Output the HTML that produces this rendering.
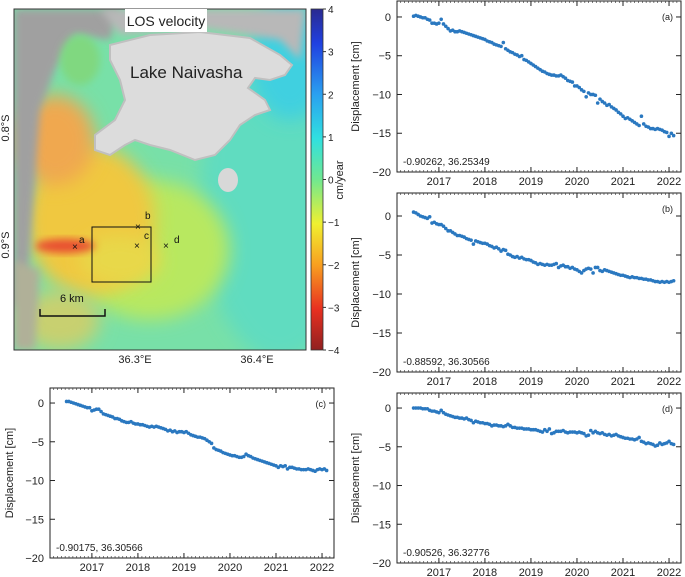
<!DOCTYPE html>
<html><head><meta charset="utf-8"><style>
body{margin:0;background:#fff;}
svg{display:block;font-family:"Liberation Sans","DejaVu Sans",sans-serif;}
</style></head><body>
<svg id="fig" width="685" height="577" viewBox="0 0 685 577">
<defs>
<filter id="bl" x="-30%" y="-30%" width="160%" height="160%"><feGaussianBlur stdDeviation="9"/></filter>
<filter id="bl2" x="-30%" y="-30%" width="160%" height="160%"><feGaussianBlur stdDeviation="4"/></filter>
<clipPath id="mapclip"><rect x="14" y="9" width="292" height="341"/></clipPath>
<linearGradient id="cbar" x1="0" y1="0" x2="0" y2="1">
<stop offset="0" stop-color="#2a2a90"/><stop offset="0.1" stop-color="#2040e0"/>
<stop offset="0.25" stop-color="#2aa0f0"/><stop offset="0.38" stop-color="#30e0e0"/>
<stop offset="0.5" stop-color="#70e890"/><stop offset="0.63" stop-color="#f0f030"/>
<stop offset="0.75" stop-color="#f8a020"/><stop offset="0.88" stop-color="#e83020"/>
<stop offset="1" stop-color="#902020"/></linearGradient>
</defs>
<g clip-path="url(#mapclip)">
<rect x="14" y="9" width="292" height="341" fill="#78e0a8"/>
<ellipse cx="280" cy="200" rx="80" ry="160" fill="#60dcc0" filter="url(#bl)"/>
<ellipse cx="290" cy="60" rx="40" ry="60" fill="#40d0e0" filter="url(#bl)"/>
<ellipse cx="150" cy="250" rx="80" ry="70" fill="#b8e860" filter="url(#bl)"/>
<ellipse cx="90" cy="220" rx="65" ry="75" fill="#f0c840" filter="url(#bl)"/>
<ellipse cx="55" cy="140" rx="40" ry="45" fill="#f0a850" filter="url(#bl)"/>
<ellipse cx="120" cy="260" rx="40" ry="25" fill="#e8d848" filter="url(#bl)"/>
<ellipse cx="65" cy="246" rx="30" ry="7" fill="#e85030" filter="url(#bl2)"/>
<ellipse cx="60" cy="320" rx="40" ry="30" fill="#c8d070" filter="url(#bl)"/>
<path d="M14 9 L120 9 L110 40 L75 35 L55 70 L40 110 L35 180 L30 250 L25 300 L14 310 Z" fill="#a0a0a0" filter="url(#bl2)"/>
<path d="M14 260 L40 270 L35 350 L14 350 Z" fill="#b0b098" filter="url(#bl2)"/>
<path d="M100 9 L306 9 L300 60 L280 40 L200 28 L120 35 Z" fill="#b8b8b8" filter="url(#bl2)"/>
<ellipse cx="80" cy="60" rx="20" ry="25" fill="#80d880" filter="url(#bl2)"/>
<path d="M110 45 L150 35 L200 32 L250 38 L280 55 L292 65 L285 75 L270 80 L255 78 L248 88 L258 95 L265 100 L270 110 L255 115 L240 125 L230 140 L215 155 L195 160 L170 150 L150 145 L135 140 L125 145 L110 155 L95 150 L95 135 L115 120 L125 100 L120 80 L110 60 Z" fill="#dcdcdc" stroke="#c0c0c0" stroke-width="2"/>
<ellipse cx="228" cy="180" rx="10" ry="12" fill="#d8d8d8"/>
</g>
<rect x="14" y="9" width="292" height="341" fill="none" stroke="#333" stroke-width="1"/>
<rect x="125" y="9" width="82" height="23" fill="#fff"/>
<text x="166" y="26" font-size="14" text-anchor="middle" fill="#222">LOS velocity</text>
<text x="130" y="78" font-size="17" fill="#222">Lake Naivasha</text>
<rect x="92" y="227" width="59" height="55" fill="none" stroke="#111" stroke-width="1"/>
<g font-size="10" fill="#111">
<text x="72" y="250">×</text><text x="79" y="243">a</text>
<text x="135" y="230">×</text><text x="145" y="219">b</text>
<text x="134" y="249">×</text><text x="144" y="239">c</text>
<text x="163" y="249">×</text><text x="174" y="243">d</text>
</g>
<path d="M40 309 V316 H105 V309" fill="none" stroke="#111" stroke-width="1.5"/>
<text x="60" y="302" font-size="11" fill="#111">6 km</text>
<text x="135" y="363" font-size="11" text-anchor="middle" fill="#222">36.3°E</text>
<text x="257" y="363" font-size="11" text-anchor="middle" fill="#222">36.4°E</text>
<text transform="translate(9,128) rotate(-90)" font-size="11" text-anchor="middle" fill="#222">0.8°S</text>
<text transform="translate(9,245) rotate(-90)" font-size="11" text-anchor="middle" fill="#222">0.9°S</text>
<rect x="311" y="9" width="12" height="341" fill="url(#cbar)" stroke="#333" stroke-width="0.8"/>
<g id="cbticks" font-size="10" fill="#222"></g>
<text transform="translate(343,180) rotate(-90)" font-size="11" text-anchor="middle" fill="#222">cm/year</text>
<g id="charts"></g>
</svg>
<script>
const cbLabels=["4","3","2","1","0","−1","−2","−3","−4"];
const years=[2016.45,2016.50,2016.55,2016.60,2016.65,2016.70,2016.75,2016.80,2016.85,2016.90,2016.95,
2017.00,2017.05,2017.10,2017.15,2017.20,2017.25,2017.30,2017.35,2017.40,2017.45,2017.50,2017.55,2017.60,2017.65,2017.70,2017.75,2017.80,2017.85,2017.90,2017.95,
2018.00,2018.05,2018.10,2018.15,2018.20,2018.25,2018.30,2018.35,2018.40,2018.45,2018.50,2018.55,2018.60,2018.65,2018.70,2018.75,2018.80,2018.85,2018.90,2018.95,
2019.00,2019.05,2019.10,2019.15,2019.20,2019.25,2019.30,2019.35,2019.40,2019.45,2019.50,2019.55,2019.60,2019.65,2019.70,2019.75,2019.80,2019.85,2019.90,2019.95,
2020.00,2020.05,2020.10,2020.15,2020.20,2020.25,2020.30,2020.35,2020.40,2020.45,2020.50,2020.55,2020.60,2020.65,2020.70,2020.75,2020.80,2020.85,2020.90,2020.95,
2021.00,2021.05,2021.10,2021.15,2021.20,2021.25,2021.30,2021.35,2021.40,2021.45,2021.50,2021.55,2021.60,2021.65,2021.70,2021.75,2021.80,2021.85,2021.90,2021.95,
2022.00,2022.05,2022.10];
const seriesA=[0.1,0.2,0.1,0.0,-0.1,-0.1,-0.3,-0.4,-0.8,-0.8,-0.9,
-0.8,-0.3,-0.9,-1.2,-1.5,-1.8,-1.7,-1.9,-1.9,-1.8,-1.9,-2.0,-2.1,-2.2,-2.3,-2.4,-2.5,-2.6,-2.7,-2.8,
-2.9,-3.1,-3.2,-3.3,-3.5,-3.6,-3.7,-3.8,-3.3,-4.1,-4.3,-4.5,-4.6,-4.8,-4.9,-5.1,-5.0,-5.5,-5.6,-5.8,
-6.0,-6.2,-6.4,-6.6,-6.8,-7.0,-7.1,-7.3,-7.4,-7.5,-7.5,-7.6,-7.6,-7.5,-7.7,-7.9,-8.2,-8.3,-8.4,-8.9,
-8.9,-9.1,-9.4,-9.6,-10.3,-9.8,-10.0,-10.0,-10.1,-11.1,-10.6,-10.9,-11.1,-11.4,-11.3,-11.6,-11.8,-12.0,-12.3,-12.5,
-12.8,-13.1,-13.0,-13.2,-13.4,-13.6,-13.8,-14.0,-12.8,-13.8,-14.1,-14.2,-14.4,-14.4,-14.5,-14.4,-14.5,-14.6,-14.8,-14.9,
-15.4,-15.0,-15.3];
const seriesB=[0.5,0.4,0.2,0.0,-0.1,-0.2,-0.3,-0.1,-0.9,-0.8,-1.0,
-1.1,-1.1,-1.3,-1.6,-1.9,-1.9,-2.1,-2.3,-2.5,-2.5,-2.6,-2.7,-2.9,-3.0,-3.1,-3.6,-3.2,-3.3,-3.4,-3.5,
-3.5,-3.6,-3.8,-3.9,-4.1,-4.0,-4.2,-4.5,-4.3,-4.4,-4.9,-5.0,-5.2,-5.3,-5.2,-5.4,-5.3,-5.5,-5.6,-5.6,
-5.7,-5.9,-6.0,-6.2,-6.1,-6.2,-6.3,-6.2,-6.3,-6.3,-6.2,-6.1,-6.6,-6.4,-6.3,-6.5,-6.5,-6.7,-6.6,-6.8,
-6.9,-7.1,-7.3,-7.0,-6.8,-6.7,-6.8,-7.3,-6.6,-6.6,-7.0,-7.1,-6.9,-7.0,-7.1,-7.2,-7.3,-7.4,-7.5,-7.6,
-7.6,-7.7,-7.8,-7.9,-7.8,-7.9,-7.9,-8.0,-8.0,-8.1,-8.1,-8.2,-8.2,-8.3,-8.4,-8.4,-8.5,-8.4,-8.5,-8.4,
-8.5,-8.4,-8.3];
const seriesC=[0.2,0.2,0.1,0.0,-0.1,-0.2,-0.3,-0.4,-0.5,-0.6,-0.6,
-1.0,-0.9,-0.8,-0.8,-1.1,-1.4,-1.5,-1.6,-1.7,-1.8,-2.0,-2.0,-2.1,-2.3,-2.4,-2.5,-2.5,-2.4,-2.6,-2.7,
-2.7,-2.8,-2.8,-2.9,-3.0,-3.1,-3.0,-3.1,-3.0,-3.1,-3.2,-3.3,-3.4,-3.6,-3.5,-3.7,-3.6,-3.8,-3.7,-3.7,
-3.8,-3.7,-3.9,-4.1,-4.2,-4.3,-4.4,-4.4,-4.5,-4.6,-4.8,-5.0,-5.2,-5.8,-6.0,-6.1,-6.2,-6.4,-6.5,-6.6,
-6.7,-6.8,-6.8,-6.9,-7.0,-7.0,-6.9,-6.6,-6.8,-6.9,-7.1,-7.2,-7.3,-7.4,-7.5,-7.6,-7.7,-7.8,-7.9,-8.0,
-8.1,-8.3,-8.1,-8.2,-8.1,-8.5,-8.3,-8.3,-8.4,-8.5,-8.5,-8.6,-8.6,-8.6,-8.5,-8.6,-8.7,-8.8,-8.6,-8.5,
-8.6,-8.5,-8.7];
const seriesD=[0.0,0.0,0.0,0.0,-0.1,-0.1,-0.1,-0.3,-0.4,-0.4,-0.5,
-0.6,-0.3,-0.6,-0.8,-0.9,-1.0,-1.1,-1.2,-1.2,-1.3,-1.3,-1.4,-1.3,-1.5,-1.6,-1.9,-1.7,-1.8,-1.9,-1.9,
-2.0,-2.0,-2.1,-2.3,-2.2,-2.2,-2.3,-2.3,-2.4,-2.3,-2.1,-2.3,-2.5,-2.5,-2.6,-2.6,-2.6,-2.7,-2.7,-2.7,
-2.8,-2.8,-2.8,-2.9,-3.0,-3.1,-2.8,-3.0,-2.7,-3.3,-3.2,-3.0,-3.0,-3.0,-2.9,-3.1,-3.2,-3.1,-3.1,-3.1,
-3.2,-3.1,-3.2,-3.3,-3.6,-3.5,-2.9,-3.2,-3.0,-3.2,-3.3,-3.2,-3.4,-3.5,-3.4,-3.6,-3.5,-3.4,-3.6,-3.7,
-3.8,-3.9,-3.9,-4.0,-4.0,-4.1,-4.0,-3.8,-4.3,-4.4,-4.6,-4.5,-4.6,-4.7,-4.9,-4.8,-4.5,-4.7,-4.6,-4.5,
-4.3,-4.6,-4.7];
const xTicks=[2017,2018,2019,2020,2021,2022];
const yTicks=[0,-5,-10,-15,-20];
const yTickLabels=["0","−5","−10","−15","−20"];
const panelLabels=["(a)","(b)","(c)","(d)"];
const coordLabels=["-0.90262, 36.25349","-0.88592, 36.30566","-0.90175, 36.30566","-0.90526, 36.32776"];

const NS="http://www.w3.org/2000/svg";
function mk(tag,attrs,parent){const e=document.createElementNS(NS,tag);for(const k in attrs)e.setAttribute(k,attrs[k]);parent.appendChild(e);return e;}
const cb=document.getElementById('cbticks');
cbLabels.forEach((l,i)=>{const y=9+i*341/8;
 const tk=mk('line',{x1:323,x2:326,y1:y,y2:y,stroke:'#333'},cb);
 
 
 const t=mk('text',{x:328,y:y+4},cb);t.textContent=l;
 
 
});
const panels=[
 {L:397,R:681,T:1,B:172,ymax:2.06,vals:seriesA,ylx:359},
 {L:397,R:681,T:193,B:372,ymax:2.95,vals:seriesB,ylx:359},
 {L:50,R:334,T:388,B:558,ymax:1.94,vals:seriesC,ylx:13},
 {L:397,R:681,T:393,B:563,ymax:1.94,vals:seriesD,ylx:359}];
const charts=document.getElementById('charts');
panels.forEach((p,pi)=>{
 const g=mk('g',{},charts);
 
 
 const x0=2016.09,x1=2022.26;
 const sx=v=>p.L+(v-x0)/(x1-x0)*(p.R-p.L);
 const sy=v=>p.T+(p.ymax-v)/(p.ymax+20)*(p.B-p.T);
 const fr=mk('rect',{x:p.L,y:p.T,width:p.R-p.L,height:p.B-p.T,fill:'none',stroke:'#222','stroke-width':1},g);
 
 
 for(let m=2016.17;m<x1;m+=1/12){const x=sx(m);
  mk('line',{x1:x,x2:x,y1:p.B,y2:p.B-2,stroke:'#444','stroke-width':0.7},g);
  mk('line',{x1:x,x2:x,y1:p.T,y2:p.T+2,stroke:'#444','stroke-width':0.7},g);}
 xTicks.forEach(v=>{const x=sx(v);
  mk('line',{x1:x,x2:x,y1:p.B,y2:p.B-5,stroke:'#222'},g);
  mk('line',{x1:x,x2:x,y1:p.T,y2:p.T+5,stroke:'#222'},g);
  const t=mk('text',{x:x,y:p.B+13,'font-size':11,'text-anchor':'middle',fill:'#222'},g);t.textContent=v;
  
  });
 yTicks.forEach((v,i)=>{const y=sy(v);
  mk('line',{x1:p.L,x2:p.L+5,y1:y,y2:y,stroke:'#222'},g);
  mk('line',{x1:p.R,x2:p.R-5,y1:y,y2:y,stroke:'#222'},g);
  const t=mk('text',{x:p.L-6,y:y+4,'font-size':11,'text-anchor':'end',fill:'#222'},g);t.textContent=yTickLabels[i];
  
  });
 const yl=mk('text',{transform:`translate(${p.ylx},${(p.T+p.B)/2}) rotate(-90)`,'font-size':11,'text-anchor':'middle',fill:'#222'},g);
 yl.textContent='Displacement [cm]';
 
 
 const pl=mk('text',{x:p.R-8,y:p.T+19,'font-size':9,'text-anchor':'end',fill:'#222'},g);pl.textContent=panelLabels[pi];
 
 
 const cl=mk('text',{x:p.L+6,y:p.B-7,'font-size':10,fill:'#222'},g);cl.textContent=coordLabels[pi];
 
 
 const n=Math.min(years.length,p.vals.length);
 for(let i=0;i<n;i++){
  const c=mk('circle',{cx:sx(years[i]),cy:sy(p.vals[i]),r:1.8,fill:'#2a78c0'},g);
  
  
 }
});
</script>
</body></html>
